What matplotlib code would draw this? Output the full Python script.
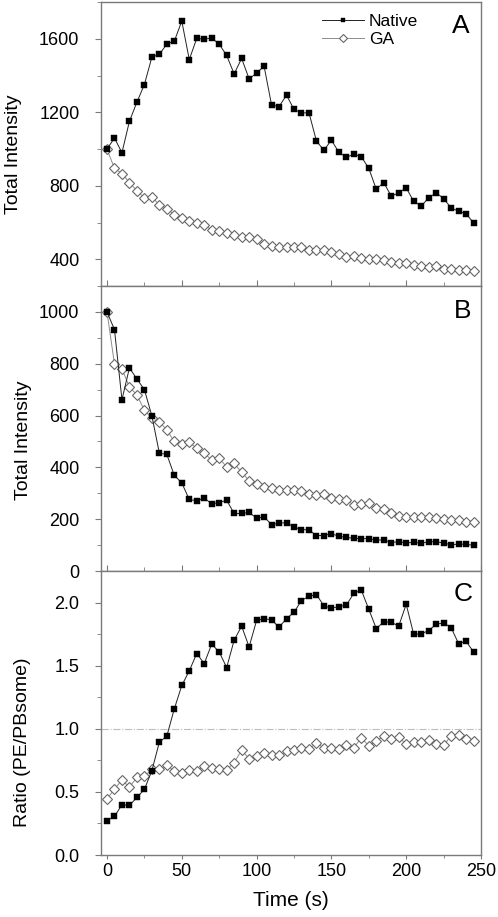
import matplotlib
matplotlib.use("Agg")
import matplotlib.pyplot as plt
from matplotlib.ticker import MultipleLocator
import numpy as np

plt.rcParams['font.family'] = ['Liberation Sans', 'DejaVu Sans']

time_s = list(range(0, 250, 5))

a_native = [1000, 1060, 980, 1151, 1255, 1351, 1500, 1515, 1571, 1587,
            1696, 1487, 1602, 1598, 1604, 1571, 1509, 1409, 1493, 1382,
            1413, 1451, 1240, 1231, 1293, 1216, 1196, 1198, 1044, 993,
            1049, 982, 956, 971, 958, 895, 782, 818, 744, 762,
            789, 716, 689, 735, 762, 731, 680, 662, 649, 598]
a_ga = [1000, 895, 867, 818, 773, 735, 740, 696, 676, 642,
        627, 611, 600, 587, 560, 556, 542, 535, 524, 520,
        509, 484, 473, 467, 466, 466, 467, 451, 449, 451,
        438, 429, 415, 418, 409, 404, 400, 395, 384, 382,
        378, 369, 366, 360, 366, 349, 346, 342, 342, 335]

b_native = [1000, 932, 661, 784, 741, 700, 599, 455, 450, 369,
            340, 276, 271, 282, 259, 264, 273, 222, 222, 226,
            204, 209, 179, 184, 187, 169, 160, 159, 137, 137,
            144, 134, 130, 126, 125, 125, 119, 120, 110, 113,
            108, 111, 107, 113, 113, 108, 101, 104, 103, 99]
b_ga = [1000, 799, 780, 710, 680, 620, 590, 576, 544, 500,
        492, 497, 473, 455, 428, 436, 401, 416, 381, 349,
        336, 326, 322, 313, 313, 313, 307, 296, 294, 298,
        281, 278, 273, 255, 259, 262, 242, 240, 223, 214,
        210, 209, 209, 207, 204, 202, 197, 195, 191, 189]

c_native = [0.272, 0.306, 0.398, 0.393, 0.456, 0.520, 0.668, 0.894, 0.942, 1.158,
            1.343, 1.459, 1.596, 1.517, 1.670, 1.609, 1.485, 1.702, 1.813, 1.649,
            1.858, 1.873, 1.863, 1.805, 1.873, 1.923, 2.016, 2.050, 2.063, 1.974,
            1.955, 1.968, 1.979, 2.074, 2.098, 1.947, 1.794, 1.847, 1.844, 1.813,
            1.987, 1.749, 1.752, 1.778, 1.828, 1.839, 1.802, 1.675, 1.694, 1.609]
c_ga = [0.443, 0.522, 0.594, 0.538, 0.615, 0.625, 0.678, 0.678, 0.712, 0.665,
        0.646, 0.673, 0.665, 0.704, 0.686, 0.681, 0.673, 0.731, 0.831, 0.763,
        0.786, 0.805, 0.794, 0.789, 0.821, 0.831, 0.847, 0.836, 0.889, 0.847,
        0.850, 0.836, 0.868, 0.850, 0.929, 0.865, 0.905, 0.942, 0.921, 0.931,
        0.879, 0.894, 0.897, 0.908, 0.876, 0.868, 0.945, 0.947, 0.921, 0.905]

series_labels = ["Native", "GA"]
panel_letters = ["A", "B", "C"]
ylabels = ["Total Intensity", "Total Intensity", "Ratio (PE/PBsome)"]
x_label = "Time (s)"
ref_ratio = 1.0

W, H = 498, 917
fig = plt.figure(figsize=(W / 100, H / 100), dpi=100)

def ax_at(top, bottom):
    return fig.add_axes([101 / W, (H - bottom) / H, 380 / W, (bottom - top) / H])

axA = ax_at(2, 286)
axB = ax_at(286, 571)
axC = ax_at(571, 855)

spine_col = '#7a7a7a'
ga_line = '#8c8c8c'
ga_edge = '#666666'

def draw(ax, nat, ga):
    ax.plot(time_s, ga, '-', color=ga_line, lw=0.7, marker='D', ms=4.6,
            mfc='white', mec=ga_edge, mew=0.8, label=series_labels[1], zorder=2)
    ax.plot(time_s, nat, '-', color='#222222', lw=0.7, marker='s', ms=4.2,
            mfc='black', mec='black', mew=0.3, label=series_labels[0], zorder=3)

draw(axA, a_native, a_ga)
draw(axB, b_native, b_ga)
axC.axhline(ref_ratio, color='#bdbdbd', lw=0.8, ls='-.', zorder=1)
draw(axC, c_native, c_ga)

axA.set_ylim(255, 1800)
axB.set_ylim(0, 1100)
axC.set_ylim(0, 2.25)

axA.yaxis.set_major_locator(MultipleLocator(400))
axA.yaxis.set_minor_locator(MultipleLocator(200))
axB.yaxis.set_major_locator(MultipleLocator(200))
axB.yaxis.set_minor_locator(MultipleLocator(100))
axC.yaxis.set_major_locator(MultipleLocator(0.5))
axC.yaxis.set_minor_locator(MultipleLocator(0.25))
axC.yaxis.set_major_formatter(matplotlib.ticker.FormatStrFormatter('%.1f'))

for i, ax in enumerate([axA, axB, axC]):
    ax.set_xlim(-4, 250)
    ax.xaxis.set_major_locator(MultipleLocator(50))
    ax.xaxis.set_minor_locator(MultipleLocator(25))
    for s in ax.spines.values():
        s.set_color(spine_col)
        s.set_linewidth(1.0)
    ax.tick_params(axis='y', which='both', direction='out', left=True, right=False,
                   color=spine_col, labelsize=13, pad=11)
    ax.tick_params(axis='y', which='major', length=4.5)
    ax.tick_params(axis='y', which='minor', length=3)
    if i < 2:
        ax.tick_params(axis='x', which='both', direction='in', bottom=True, top=False,
                       labelbottom=False, color=spine_col)
        ax.tick_params(axis='x', which='major', length=4.5)
        ax.tick_params(axis='x', which='minor', length=3)
    else:
        ax.tick_params(axis='x', which='both', direction='out', bottom=True, top=False,
                       color=spine_col, labelsize=13, pad=3)
        ax.tick_params(axis='x', which='major', length=3)
        ax.tick_params(axis='x', which='minor', length=2)
    ax.text(463 , 0, panel_letters[i], fontsize=19, ha='center', va='center',
            transform=matplotlib.transforms.blended_transform_factory(
                matplotlib.transforms.IdentityTransform(), ax.transAxes) if False else ax.transAxes)

# reposition panel letters to pixel positions
letter_pos = [(461, 26), (463, 311), (463, 594)]
for ax, (px, py) in zip([axA, axB, axC], letter_pos):
    t = ax.texts[-1]
    t.set_transform(fig.transFigure)
    t.set_position((px / W, (H - py) / H))

handles, labels = axA.get_legend_handles_labels()
leg = axA.legend(handles[::-1], labels[::-1], loc='upper left',
                 bbox_to_anchor=((322 - 101) / 380, (286 - 14) / 284),
                 frameon=False, fontsize=12.5, handlelength=2.4, handletextpad=0.3,
                 labelspacing=0.15, borderpad=0, borderaxespad=0, markerscale=0.85)

fig.text(14 / W, (H - 154) / H, ylabels[0], rotation=90, ha='center', va='center', fontsize=14)
fig.text(24 / W, (H - 440) / H, ylabels[1], rotation=90, ha='center', va='center', fontsize=14)
fig.text(22.5 / W, (H - 742) / H, ylabels[2], rotation=90, ha='center', va='center', fontsize=14)
fig.text(291 / W, (H - 901) / H, x_label, ha='center', va='center', fontsize=15)

fig.savefig('out.png', dpi=100)
